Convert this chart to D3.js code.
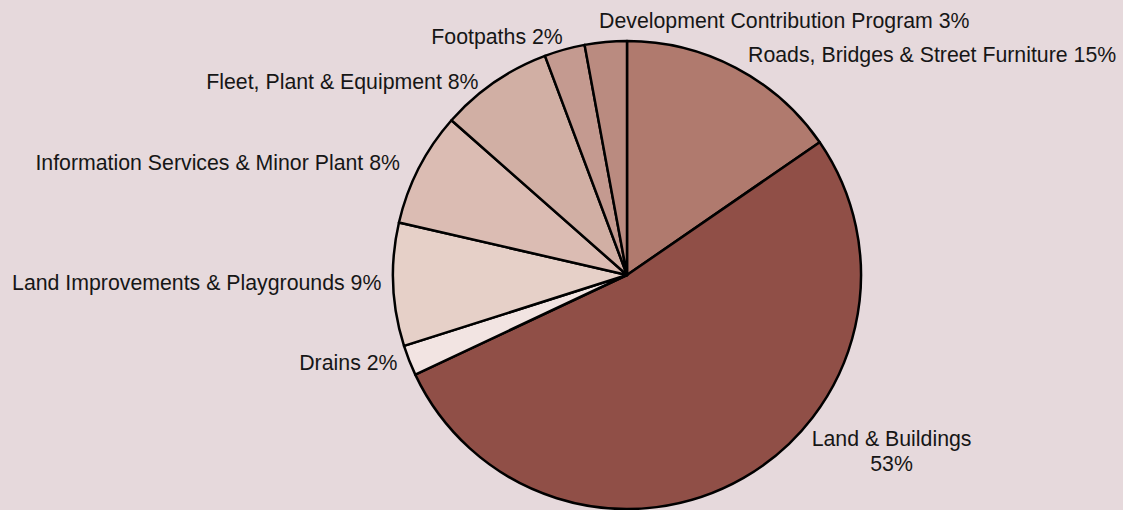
<!DOCTYPE html>
<html>
<head>
<meta charset="utf-8">
<script src="https://cdn.jsdelivr.net/npm/d3@7"></script>
<style>
  html, body { margin: 0; padding: 0; background: #e6d9dc; }
  svg { display: block; }
  text { font-family: "Liberation Sans", Arial, Helvetica, sans-serif; fill: #161616; }
</style>
</head>
<body>
<svg id="chart" width="1123" height="510"></svg>
<script>
// ---- data ----
const categories = [
  "Roads, Bridges & Street Furniture",
  "Land & Buildings",
  "Drains",
  "Land Improvements & Playgrounds",
  "Information Services & Minor Plant",
  "Fleet, Plant & Equipment",
  "Footpaths",
  "Development Contribution Program"
];
const values = [15.4, 52.6, 2.1, 8.5, 7.9, 7.8, 2.8, 2.9];
const percentLabels = ["15%", "53%", "2%", "9%", "8%", "8%", "2%", "3%"];

// ---- styles / layout ----
const colors = ["#b07a6e", "#904f47", "#f2e4e2", "#e6d0c8", "#dbbcb3", "#d1afa4", "#c49a90", "#ba8b80"];
const labelAnchor = ["start", "middle", "end", "end", "end", "end", "end", "start"];
const labelNudge = [[6.6, 5.1], [142, -42.3], [-0.5, 5.2], [0.2, 5], [-8.2, 7.4], [-8.9, 16.9], [1.4, 6.4], [-5.6, -1.7]];
const cx = 627, cy = 275, radius = 234, labelRadius = 246, fontSize = 21.3;

const svg = d3.select("#chart");
const g = svg.append("g").attr("transform", `translate(${cx},${cy})`);

const data = categories.map((c, i) => ({ name: c, value: values[i], pct: percentLabels[i], i }));

const pie = d3.pie().value(d => d.value).sort(null);
const arcs = pie(data);
const arc = d3.arc().innerRadius(0).outerRadius(radius);

g.selectAll("path.slice")
  .data(arcs)
  .join("path")
  .attr("class", "slice")
  .attr("d", arc)
  .attr("fill", d => colors[d.data.i])
  .attr("stroke", "#000")
  .attr("stroke-width", 2.5)
  .attr("stroke-linejoin", "round");

const labels = g.selectAll("text.label")
  .data(arcs)
  .join("text")
  .attr("class", "label")
  .attr("font-size", fontSize)
  .attr("text-anchor", d => labelAnchor[d.data.i])
  .attr("transform", d => {
    const a = (d.startAngle + d.endAngle) / 2;
    const x = labelRadius * Math.sin(a) + labelNudge[d.data.i][0];
    const y = -labelRadius * Math.cos(a) + labelNudge[d.data.i][1];
    return `translate(${x},${y})`;
  });

labels.each(function(d) {
  const t = d3.select(this);
  if (d.data.i === 1) {
    t.append("tspan").attr("x", 0).attr("dy", 0).text(d.data.name);
    t.append("tspan").attr("x", 0).attr("dy", "1.17em").text(d.data.pct);
  } else {
    t.text(d.data.name + " " + d.data.pct);
  }
});
</script>
</body>
</html>
